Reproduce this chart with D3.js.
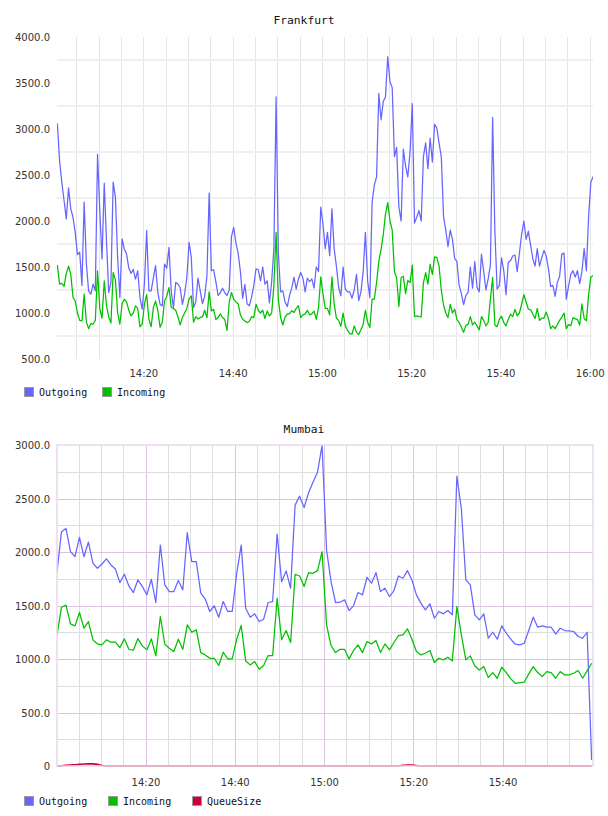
<!DOCTYPE html>
<html><head><meta charset="utf-8">
<script src="https://cdn.jsdelivr.net/npm/d3@7/dist/d3.min.js"></script>
<style>
html,body{margin:0;padding:0;background:#fff;}
svg{display:block;}
</style></head>
<body>
<svg id="chart" width="608" height="816"></svg>
<script>
// ---------------- DATA ----------------
// Frankfurt: samples every 30 s starting 14:00:45
const fraStart = [14, 0, 45];
const fraStepSec = 30;
const fraOutgoing = [
3059,2650,2420,2223,2023,2360,2132,2041,1877,1634,1660,
1300,2205,1532,1241,1205,1314,1241,2725,2114,1586,
2412,1786,1223,1332,2423,2259,1604,1168,1805,1696,
1641,1488,1430,1474,1368,1459,1168,1041,1314,1896,
1241,1241,1379,1514,1223,1095,1077,1532,1488,1714,
1241,1059,1332,1314,1277,1095,1205,1386,1768,1604,
1059,1120,1380,1241,1103,1180,1400,2303,1459,1470,
1340,1190,1220,1270,1220,1190,1250,1830,1930,1760,
1650,1450,1160,1310,1100,1077,1170,1300,1480,1470,
1350,1500,1314,1350,1110,1340,1700,3350,1650,1230,
1240,1120,1070,1190,1270,1390,1260,1370,1440,1380,
1230,1380,1340,1370,1270,1500,1450,2150,1968,1700,
1877,1623,2132,1700,1510,1280,1187,1500,1260,1230,
1230,1160,1250,1420,1135,1230,1450,1877,1350,1168,
2200,2390,2480,3386,3100,3300,3350,3786,3514,3450,
2700,2800,2150,2000,2780,2600,2480,2750,3277,1977,
2041,2114,2000,2700,2850,2568,2900,2641,3050,3010,
2850,2700,2050,1900,1720,1900,1800,1590,1560,1300,
1210,1090,1190,1223,1500,1270,1560,1280,1230,1641,
1450,1250,1370,1520,3125,1900,1260,1300,1600,1459,
1200,1550,1568,1620,1630,1450,1650,1859,2000,1800,
1890,1740,1590,1510,1700,1510,1600,1680,1620,1480,
1290,1300,1180,1330,1400,1641,1650,1150,1290,1420,
1460,1390,1460,1320,1450,1700,1460,2050,2420,2484
];
const fraIncoming = [
1521,1314,1321,1290,1430,1510,1420,1170,1130,1000,920,
914,1205,900,830,885,880,920,1459,1050,943,
1350,1080,960,890,1440,1360,1000,880,1100,1150,
1120,1030,968,1000,1077,1050,850,880,1095,1200,
930,850,1060,1130,1030,845,900,1130,1180,1277,
1060,1050,1030,960,870,950,1000,1050,1150,1187,
900,960,935,950,960,1030,950,1230,1023,1040,
930,950,990,950,930,810,1120,1223,1150,1120,
1100,980,932,914,896,910,960,950,1095,1030,
1000,1030,940,1023,968,1000,1300,1877,1150,950,
870,955,990,990,1025,1005,1050,1080,950,980,
990,1030,980,990,1020,930,1060,1394,1205,1050,
1050,980,1394,1100,945,920,855,1000,860,810,
775,770,860,790,765,820,875,1030,900,841,
1150,1150,1330,1560,1690,1850,2077,2200,2000,1900,
1450,1380,1070,1386,1400,1210,1355,1330,1520,960,
968,960,957,1330,1440,1314,1532,1420,1610,1604,
1510,1250,1090,1000,950,1095,1000,1041,930,896,
845,790,865,877,960,870,900,860,815,960,
920,860,900,1150,1386,870,850,930,965,896,
860,930,987,960,1040,970,1000,1095,1200,1120,
1041,1035,990,940,1050,920,943,945,1010,940,
830,860,830,875,920,955,1000,830,875,860,
950,935,930,870,1100,940,914,1200,1390,1405
];
const fraYTicks = [500,1000,1500,2000,2500,3000,3500,4000];
const fraYTickLabels = ["500.0","1000.0","1500.0","2000.0","2500.0","3000.0","3500.0","4000.0"];
const fraYGrid = [750,1250,1750,2250,2750,3250,3750];
const fraXTicks = ["14:20","14:40","15:00","15:20","15:40","16:00"];
const fraSeries = ["Outgoing","Incoming"];

// Mumbai: samples roughly every minute starting 14:00:10
const mumStart = [14, 0, 10];
const mumStepSec = 60.4;
const mumOutgoing = [
1817,2189,2220,2003,1956,2137,1956,2093,1894,1848,
1888,1935,1879,1841,1714,1792,1683,1621,1739,1677,
1599,1745,1528,2065,1692,1630,1630,1733,1646,2180,
1910,1910,1615,1560,1444,1497,1390,1537,1444,1444,
1801,2065,1475,1390,1422,1350,1372,1528,1537,2168,
1723,1823,1661,2438,2522,2416,2553,2655,2748,2997,
2019,1723,1528,1531,1553,1453,1497,1621,1599,1764,
1708,1807,1630,1661,1584,1640,1776,1755,1826,1739,
1599,1522,1459,1516,1381,1444,1422,1453,1413,2708,
2407,1739,1692,1413,1366,1422,1194,1250,1185,1310,
1241,1185,1138,1132,1147,1266,1391,1297,1310,1297,
1297,1232,1288,1266,1263,1257,1210,1194,1250,56
];
const mumIncoming = [
1226,1484,1503,1328,1310,1435,1288,1350,1179,1141,
1132,1179,1157,1157,1107,1188,1091,1082,1191,1123,
1085,1188,1029,1397,1138,1101,1070,1185,1091,1319,
1250,1272,1060,1038,1007,1007,939,1063,1001,1001,
1185,1313,982,945,976,904,939,1032,1032,1568,
1179,1266,1154,1792,1776,1677,1807,1801,1826,2003,
1319,1126,1060,1091,1091,1001,1079,1132,1060,1163,
1141,1172,1060,1141,1085,1154,1219,1226,1282,1185,
1070,1038,1054,1079,967,1007,992,1017,982,1491,
1226,992,1029,935,898,929,826,873,820,923,
873,814,773,780,783,861,929,873,836,882,
873,820,882,851,851,867,892,820,889,960
];
const mumQueueSize = [
0,3,6,9,12,15,18,20,20,15,
5,0,0,0,0,0,0,0,0,0,
0,0,0,0,0,0,0,0,0,0,
0,0,0,0,0,0,0,0,0,0,
0,0,0,0,0,0,0,0,0,0,
0,0,0,0,0,0,0,0,0,0,
0,0,0,0,0,0,0,0,0,0,
0,0,0,0,0,0,2,6,10,10,
4,0,0,0,0,0,0,0,0,0,
0,0,0,0,0,0,0,0,0,0,
0,0,0,0,0,0,0,0,0,0,
0,0,0,0,0,0,0,0,0,0
];
const mumYTicks = [0,500,1000,1500,2000,2500,3000];
const mumYTickLabels = ["0","500.0","1000.0","1500.0","2000.0","2500.0","3000.0"];
const mumYMinor = [250,750,1250,1750,2250,2750];
const mumXTicks = ["14:20","14:40","15:00","15:20","15:40"];
const mumSeries = ["Outgoing","Incoming","QueueSize"];

// ---------------- STYLE ----------------
const colors = {Outgoing:"#6666ff", Incoming:"#00c000", QueueSize:"#cc0033"};
const tickFont = "DejaVu Sans, Verdana, sans-serif";
const monoFont = "DejaVu Sans Mono, monospace";

const svg = d3.select("#chart");
const day = (h,m,s) => new Date(2000,0,1,h,m,s);
const parseHM = s => { const [h,m] = s.split(":").map(Number); return day(h,m,0); };
const fmt = d3.timeFormat("%H:%M");

function makeTimes(start, stepSec, n){
  const t0 = day(...start).getTime();
  return d3.range(n).map(i => new Date(t0 + Math.round(i*stepSec*1000)));
}

function drawChart(cfg){
  const g = svg.append("g");
  const x = d3.scaleTime().domain(cfg.xDomain).range([cfg.left, cfg.right]);
  const y = d3.scaleLinear().domain(cfg.yDomain).range([cfg.bottom, cfg.top]);

  // title
  g.append("text").attr("x", 304).attr("y", cfg.titleY)
    .attr("text-anchor","middle").attr("dominant-baseline","central")
    .style("font-family", monoFont).style("font-size","11.3px").attr("fill","#111")
    .text(cfg.title);

  cfg.grid(g, x, y);

  // y labels
  const yAxis = d3.axisLeft(y).tickValues(cfg.yTicks)
    .tickFormat((d,i) => cfg.yTickLabels[i]).tickSize(0).tickPadding(0);
  const ya = g.append("g").attr("transform", `translate(${cfg.yLabelX},0)`).call(yAxis);
  ya.select(".domain").remove();
  ya.selectAll("text").style("font-family", tickFont).style("font-size","10px")
    .attr("fill","#333").attr("dy","0.35em");

  // x labels
  const xAxis = d3.axisBottom(x).tickValues(cfg.xTicks.map(parseHM))
    .tickFormat(fmt).tickSize(0).tickPadding(0);
  const xa = g.append("g").attr("transform", `translate(0,${cfg.xLabelY})`).call(xAxis);
  xa.select(".domain").remove();
  xa.selectAll("text").style("font-family", tickFont).style("font-size","10px")
    .attr("fill","#333").attr("dy","0.35em");

  // clip
  const cid = "clip-" + cfg.title;
  svg.append("clipPath").attr("id", cid).append("rect")
    .attr("x", cfg.left).attr("y", cfg.top - 2)
    .attr("width", cfg.right - cfg.left).attr("height", cfg.bottom - cfg.top + 4);

  const lines = g.append("g").attr("clip-path", `url(#${cid})`);
  cfg.series.forEach(s => {
    const vals = cfg.data[s];
    const pts = vals.map((v,i) => [cfg.times[i], v]);
    lines.append("path").datum(pts)
      .attr("fill","none").attr("stroke", colors[s])
      .attr("stroke-width", s === "QueueSize" ? 1.6 : 1.25)
      .attr("stroke-linejoin","round")
      .attr("d", d3.line().x(d => x(d[0])).y(d => y(d[1])).curve(s === "QueueSize" ? d3.curveMonotoneX : d3.curveLinear));
  });

  if (cfg.frame) cfg.frame(g);

  // legend
  const lg = g.append("g");
  cfg.series.forEach((s,i) => {
    const lx = cfg.legendX[i];
    lg.append("rect").attr("x", lx + 0.5).attr("y", cfg.legendY - 4.5)
      .attr("width", 9).attr("height", 9)
      .attr("fill", colors[s]).attr("stroke","#9a9a9a").attr("stroke-width",1);
    lg.append("text").attr("x", lx + 15).attr("y", cfg.legendY)
      .attr("dominant-baseline","central")
      .style("font-family", monoFont).style("font-size","10px").attr("fill","#111")
      .text(s);
  });
}

// ---------------- FRANKFURT ----------------
const fraTimes = makeTimes(fraStart, fraStepSec, fraOutgoing.length);
drawChart({
  title:"Frankfurt", titleY:20,
  left:57, right:593, top:37, bottom:359,
  xDomain:[day(14,0,40), day(16,0,44)], yDomain:[500,4000],
  yTicks:fraYTicks, yTickLabels:fraYTickLabels, yLabelX:50,
  xTicks:fraXTicks, xLabelY:373,
  series:fraSeries, times:fraTimes,
  data:{Outgoing:fraOutgoing, Incoming:fraIncoming},
  legendX:[24,102], legendY:392,
  grid:(g,x,y) => {
    const vt = d3.timeMinute.every(5).range(day(14,5,0), day(16,0,30));
    g.append("g").selectAll("line").data(vt).join("line")
      .attr("x1", d => Math.round(x(d))+0.5).attr("x2", d => Math.round(x(d))+0.5)
      .attr("y1", 37).attr("y2", 359).attr("stroke","#e6e6e6").attr("stroke-width",1);
    g.append("g").selectAll("line").data(fraYGrid).join("line")
      .attr("x1", 57).attr("x2", 593)
      .attr("y1", d => y(d)).attr("y2", d => y(d))
      .attr("stroke","#f0f0f0").attr("stroke-width",2);
  }
});

// ---------------- MUMBAI ----------------
const mumTimes = makeTimes(mumStart, mumStepSec, mumOutgoing.length);
drawChart({
  title:"Mumbai", titleY:429,
  left:57, right:593, top:445, bottom:766,
  xDomain:[day(14,0,10), day(16,0,16)], yDomain:[0,3000],
  yTicks:mumYTicks, yTickLabels:mumYTickLabels, yLabelX:50,
  xTicks:mumXTicks, xLabelY:782,
  series:mumSeries, times:mumTimes,
  data:{Outgoing:mumOutgoing, Incoming:mumIncoming, QueueSize:mumQueueSize},
  legendX:[24,108,192], legendY:801,
  grid:(g,x,y) => {
    const vt = d3.timeMinute.every(5).range(day(14,5,0), day(15,56,0));
    const isMajor = d => d.getMinutes() % 20 === 0;
    g.append("g").selectAll("line").data(vt).join("line")
      .attr("x1", d => Math.round(x(d))+0.5).attr("x2", d => Math.round(x(d))+0.5)
      .attr("y1", 445).attr("y2", 766)
      .attr("stroke", d => isMajor(d) ? "#dcc4e0" : "#dedede").attr("stroke-width",1);
    g.append("g").selectAll("line").data(mumYMinor).join("line")
      .attr("x1", 57).attr("x2", 593)
      .attr("y1", d => Math.round(y(d))+0.5).attr("y2", d => Math.round(y(d))+0.5)
      .attr("stroke","#dedede").attr("stroke-width",1);
    g.append("g").selectAll("line").data([500,1000,1500,2000,2500]).join("line")
      .attr("x1", 57).attr("x2", 593)
      .attr("y1", d => Math.round(y(d))+0.5).attr("y2", d => Math.round(y(d))+0.5)
      .attr("stroke","#dcc4e0").attr("stroke-width",1);
  },
  frame:(g) => {
    g.append("rect").attr("x",57).attr("y",445).attr("width",536).attr("height",321)
      .attr("fill","none").attr("stroke","#ead8ee").attr("stroke-width",1.5);
  }
});
</script>
</body></html>
